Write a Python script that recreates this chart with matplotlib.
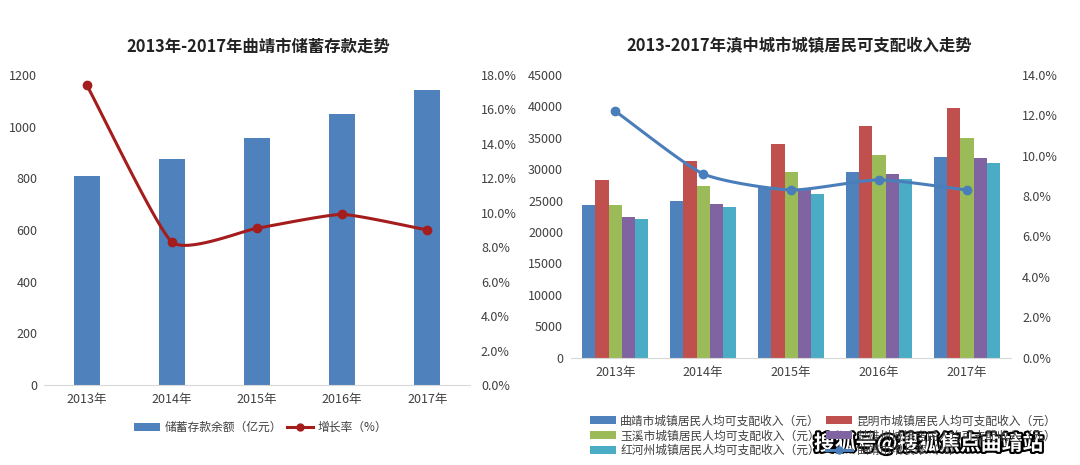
import numpy as np
import matplotlib
matplotlib.use("Agg")
import matplotlib.pyplot as plt
import matplotlib.patheffects as pe
from matplotlib.ticker import FuncFormatter, MultipleLocator

plt.rcParams['font.family'] = ['Noto Sans CJK SC', 'DejaVu Sans']

# 数据
years = ['2013年', '2014年', '2015年', '2016年', '2017年']
deposit = [809, 875, 956, 1049, 1142]          # 储蓄存款余额（亿元）
deposit_growth = [17.4, 8.3, 9.1, 9.9, 9.0]    # 增长率（%）

cities = ['曲靖市城镇居民人均可支配收入（元）', '昆明市城镇居民人均可支配收入（元）',
          '玉溪市城镇居民人均可支配收入（元）', '楚雄州城镇居民人均可支配收入（元）',
          '红河州城镇居民人均可支配收入（元）']
qujing = [24300, 25000, 27120, 29510, 31950]
kunming = [28330, 31360, 33970, 36830, 39800]
yuxi = [24300, 27280, 29610, 32270, 34970]
chuxiong = [22400, 24520, 26900, 29240, 31740]
honghe = [22030, 23940, 26010, 28400, 30990]
qujing_growth = [12.2, 9.1, 8.3, 8.8, 8.3]

colors = ['#4F81BD', '#C0504D', '#9BBB59', '#8064A2', '#4BACC6']


def smooth(x, y, tension=0.35, n=30):
    # Hermite 曲线，模拟 Excel 平滑线
    x = np.asarray(x, float); y = np.asarray(y, float)
    mx = np.gradient(x) * 2 * tension
    my = np.zeros_like(y)
    my[1:-1] = (y[2:] - y[:-2]) * tension
    my[0] = (y[1] - y[0]) * tension * 2
    my[-1] = (y[-1] - y[-2]) * tension * 2
    xs, ys = [], []
    t = np.linspace(0, 1, n)
    h00 = 2 * t ** 3 - 3 * t ** 2 + 1
    h10 = t ** 3 - 2 * t ** 2 + t
    h01 = -2 * t ** 3 + 3 * t ** 2
    h11 = t ** 3 - t ** 2
    for i in range(len(x) - 1):
        xs.extend(h00 * x[i] + h10 * mx[i] + h01 * x[i + 1] + h11 * mx[i + 1])
        ys.extend(h00 * y[i] + h10 * my[i] + h01 * y[i + 1] + h11 * my[i + 1])
    return xs, ys


def style(ax, ax2):
    for a in (ax, ax2):
        for s in a.spines.values():
            s.set_visible(False)
        a.tick_params(length=0, labelsize=9, colors='#404040')
    ax.spines['bottom'].set_visible(True)
    ax.spines['bottom'].set_color('#D9D9D9')


fig = plt.figure(figsize=(10.8, 4.65), dpi=100)

# 左图
ax = fig.add_axes([0.041, 0.172, 0.394, 0.667])
x = np.arange(len(years))
ax.bar(x, deposit, width=0.3, color=colors[0], label='储蓄存款余额（亿元）')
ax.set_ylim(0, 1200)
ax.yaxis.set_major_locator(MultipleLocator(200))
ax.set_xlim(-0.5, 4.5)
ax.set_xticks(x, years)
ax2 = ax.twinx()
sx, sy = smooth(x, deposit_growth, tension=0.25)
ax2.plot(sx, sy, color='#A51C1C', lw=2.2)
ax2.plot(x, deposit_growth, 'o', color='#A51C1C', ms=6)
ax2.plot([], [], color='#A51C1C', lw=2.2, marker='o', ms=5, label='增长率（%）')
ax2.set_ylim(0, 18)
ax2.yaxis.set_major_locator(MultipleLocator(2))
ax2.yaxis.set_major_formatter(FuncFormatter(lambda v, p: f'{v:.1f}%'))
style(ax, ax2)
ax.tick_params(axis='y', pad=5)
ax.tick_params(axis='x', pad=6)
ax2.tick_params(axis='y', pad=8)
fig.text(0.239, 0.9, '2013年-2017年曲靖市储蓄存款走势', ha='center', va='center',
         fontsize=11.8, fontweight='bold', color='#222222')
h1, l1 = ax.get_legend_handles_labels()
h2, l2 = ax2.get_legend_handles_labels()
fig.legend(h1 + h2, l1 + l2, loc='center', bbox_to_anchor=(0.241, 0.08), ncol=2,
           frameon=False, fontsize=8.5, handlelength=2.2, columnspacing=0.4,
           handletextpad=0.4, labelcolor='#404040')

# 右图
bx = fig.add_axes([0.529, 0.231, 0.407, 0.608])
series = [qujing, kunming, yuxi, chuxiong, honghe]
w = 0.15
for i, (name, vals) in enumerate(zip(cities, series)):
    bx.bar(x + (i - 2) * w, vals, width=w, color=colors[i], label=name)
bx.set_ylim(0, 45000)
bx.yaxis.set_major_locator(MultipleLocator(5000))
bx.set_xlim(-0.5, 4.5)
bx.set_xticks(x, years)
bx2 = bx.twinx()
sx, sy = smooth(x, qujing_growth, tension=0.3)
bx2.plot(sx, sy, color='#4A7EBB', lw=2.2)
bx2.plot(x, qujing_growth, 'o', color='#4A7EBB', ms=6)
bx2.plot([], [], color='#4A7EBB', lw=2.2, marker='o', ms=5, label='曲靖市增长率（%）')
bx2.set_ylim(0, 14)
bx2.yaxis.set_major_locator(MultipleLocator(2))
bx2.yaxis.set_major_formatter(FuncFormatter(lambda v, p: f'{v:.1f}%'))
style(bx, bx2)
bx.tick_params(axis='y', pad=6)
bx.tick_params(axis='x', pad=6)
bx2.tick_params(axis='y', pad=8)
fig.text(0.74, 0.9, '2013-2017年滇中城市城镇居民可支配收入走势', ha='center', va='center',
         fontsize=11.8, fontweight='bold', color='#222222')
h1, l1 = bx.get_legend_handles_labels()
h2, l2 = bx2.get_legend_handles_labels()
handles = h1 + h2
labels = l1 + l2
order = [0, 2, 4, 1, 3, 5]
fig.legend([handles[i] for i in order], [labels[i] for i in order], loc='center',
           bbox_to_anchor=(0.762, 0.063), ncol=2, frameon=False, fontsize=8.5,
           handlelength=2.2, columnspacing=0.5, handletextpad=0.4,
           labelspacing=0.15, labelcolor='#404040')

# 水印
fig.text(0.86, 0.047, '搜狐号@搜狐焦点曲靖站', ha='center', va='center', fontsize=15,
         fontweight='bold', color='white',
         path_effects=[pe.withStroke(linewidth=3, foreground='black')])

fig.savefig('out.png', dpi=100, facecolor='white')
